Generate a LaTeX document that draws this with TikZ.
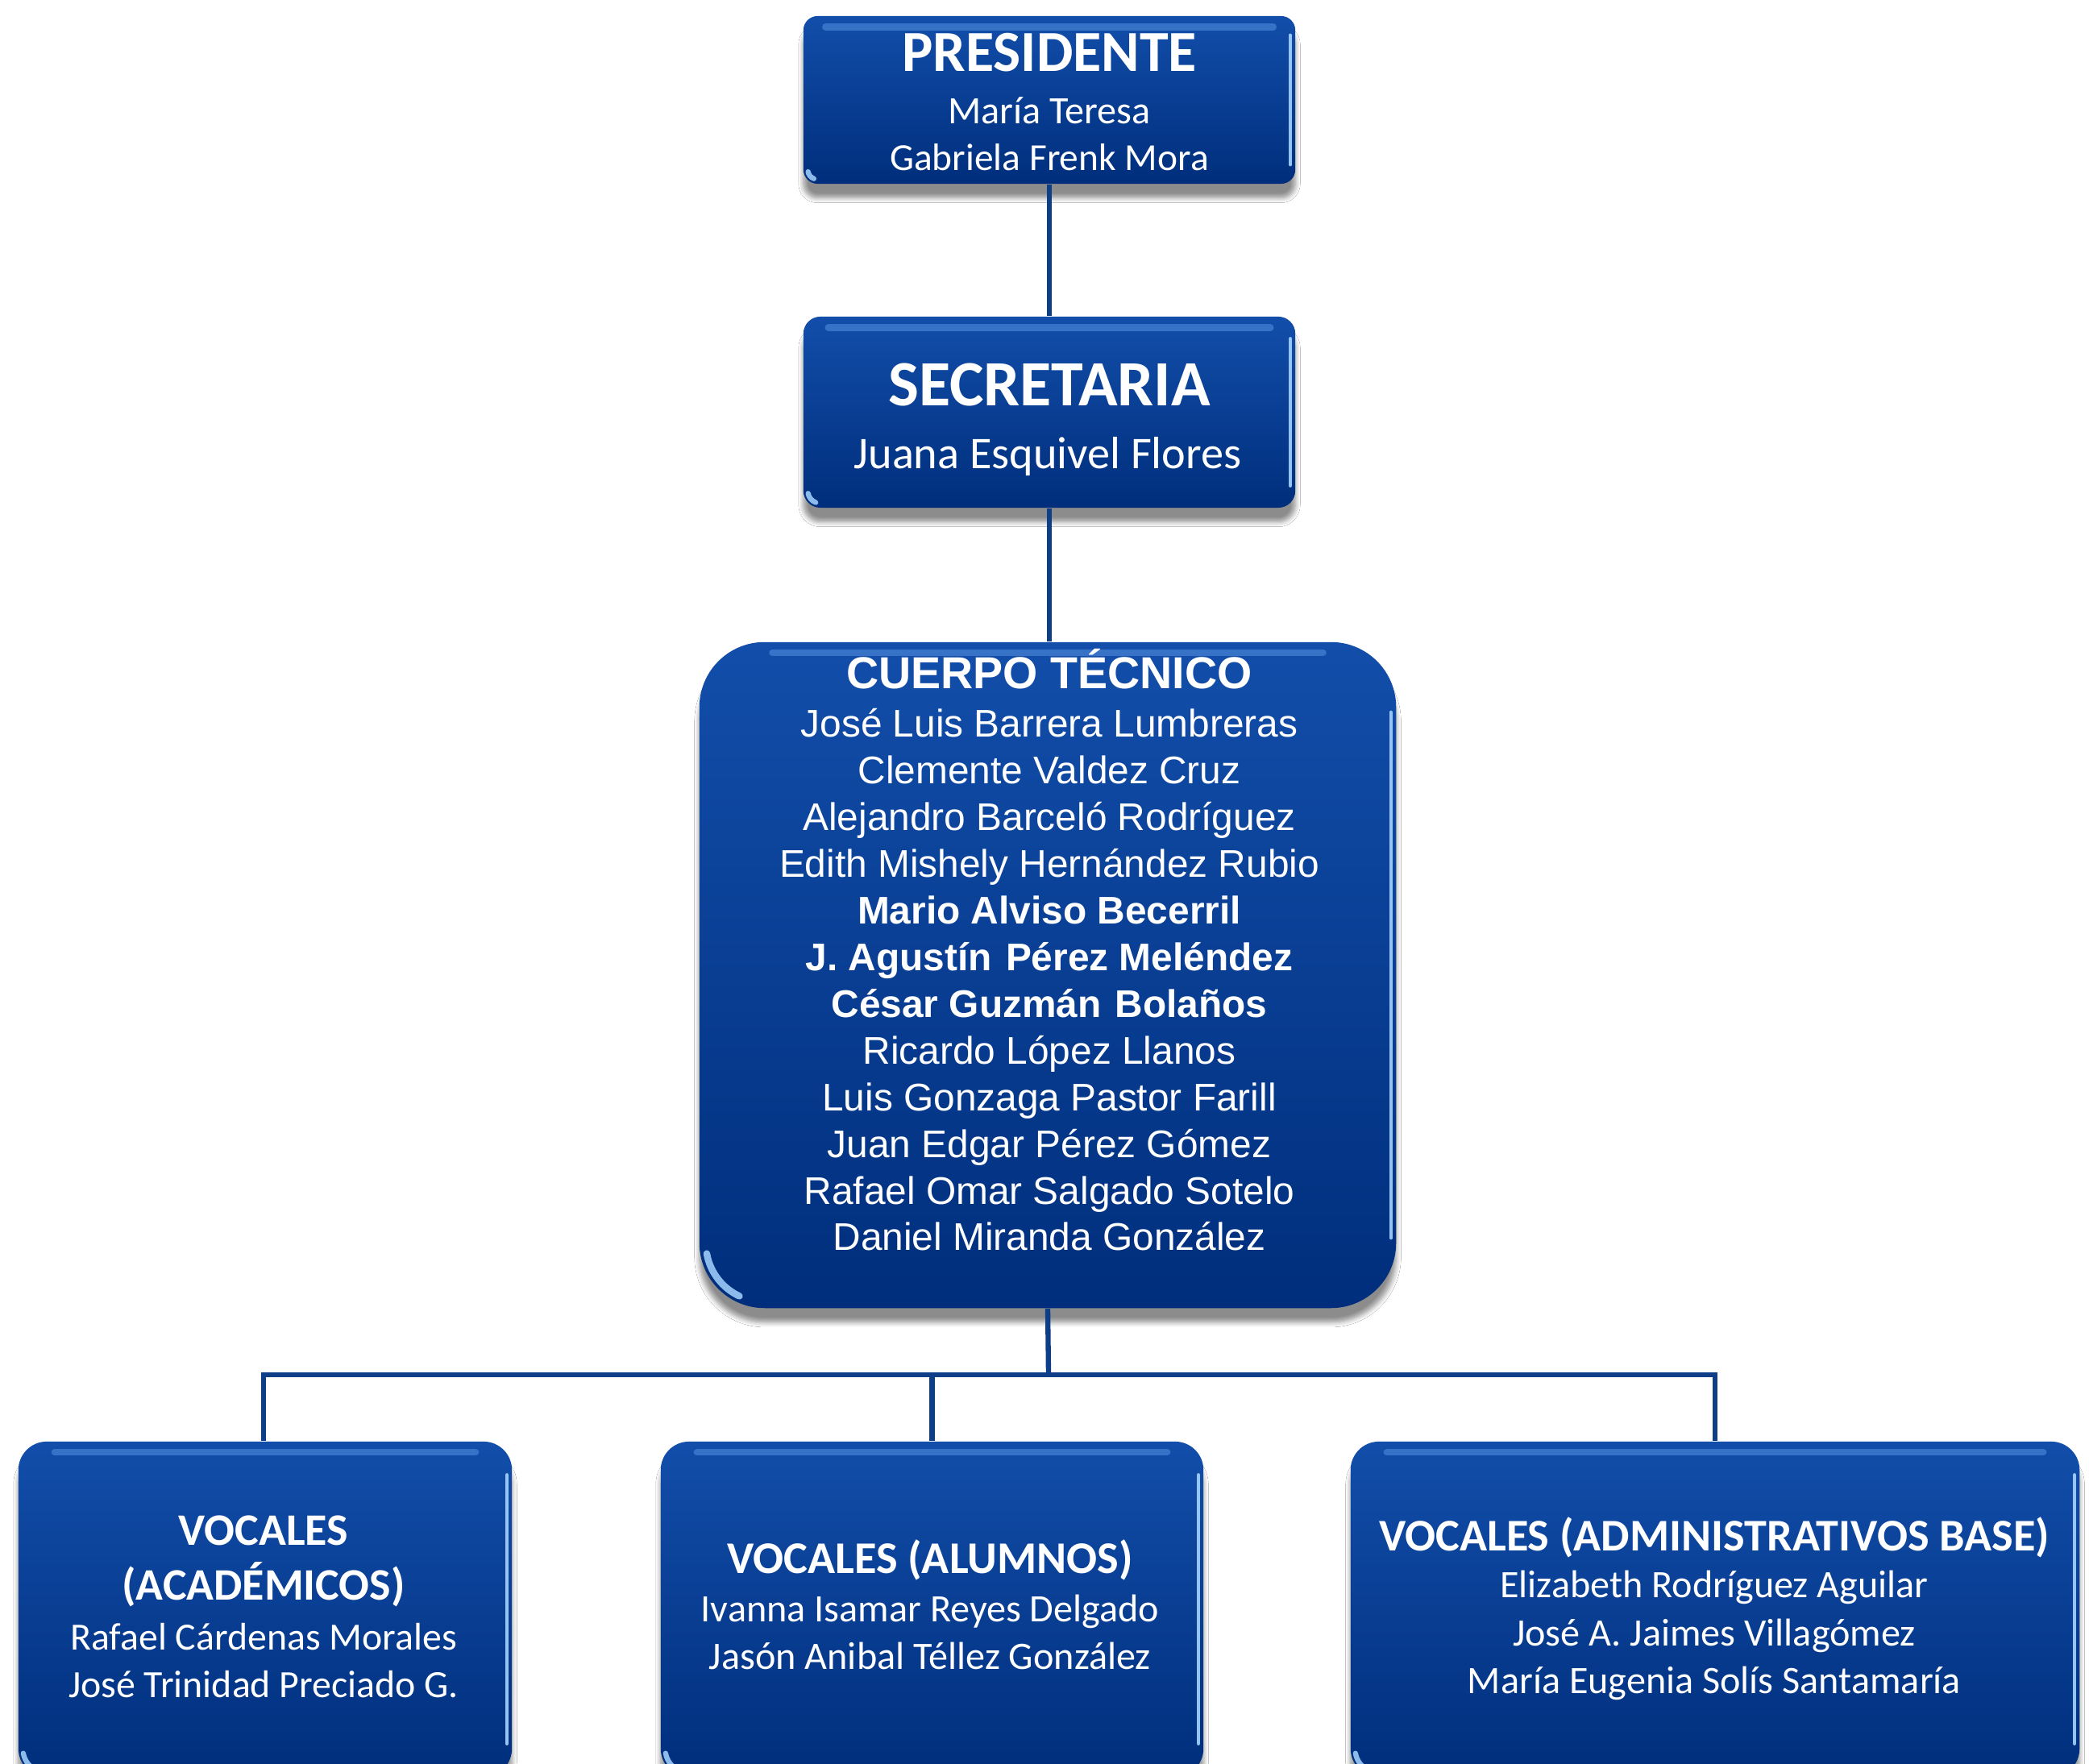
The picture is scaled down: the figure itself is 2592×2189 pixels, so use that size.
\documentclass[tikz,border=0pt]{standalone}
\usepackage{fontspec}
\newfontfamily\carl{Carlito}
\newfontfamily\arl{Liberation Sans}
\usetikzlibrary{shadows.blur}
\definecolor{boxtop}{RGB}{18,78,170}
\definecolor{boxmid}{RGB}{8,64,152}
\definecolor{boxbot}{RGB}{0,46,124}
\definecolor{connc}{RGB}{14,62,135}
\definecolor{hlc}{RGB}{80,140,220}
\definecolor{edgec}{RGB}{165,212,255}
\begin{document}
\begin{tikzpicture}[x=0.01cm,y=-0.01cm,
  orgbox/.style={rounded corners=#1, top color=boxtop, middle color=boxmid, bottom color=boxbot, draw=none,
    blur shadow={shadow blur steps=6, shadow xshift=0pt, shadow yshift=-5pt, shadow opacity=45}},
  orgbox/.default=5pt,
  hl/.style={draw=hlc, line width=2.4pt, opacity=0.6, line cap=round},
  edgehl/.style={draw=edgec, line width=1.3pt, opacity=0.9, line cap=round},
  cornerhl/.style={draw=edgec, line width=1.8pt, opacity=0.85, line cap=round},
  conn/.style={draw=connc, line width=1.8pt},
  ln/.style={anchor=base, text=white, inner sep=0pt},
  ttl/.style={ln, font=\carl\bfseries\fontsize{#1}{#1}\selectfont},
  nm/.style={ln, font=\carl\fontsize{#1}{#1}\selectfont},
  att/.style={ln, font=\arl\bfseries\fontsize{15.8}{16}\selectfont},
  atn/.style={ln, font=\arl\fontsize{13.6}{14}\selectfont},
  atb/.style={ln, font=\arl\bfseries\fontsize{13.6}{14}\selectfont}]
\fill[white] (0,0) rectangle (2592,2189);
\useasboundingbox (0,0) rectangle (2592,2189);

% boxes
\node[orgbox=5pt, minimum width=6.10cm, minimum height=2.08cm] (pres) at (1302,124) {};
\node[orgbox=6pt, minimum width=6.10cm, minimum height=2.37cm] (sec) at (1302,511.5) {};
\node[orgbox=23pt, minimum width=8.64cm, minimum height=8.26cm] (cuerpo) at (1300,1210) {};
\node[orgbox=10pt, minimum width=6.12cm, minimum height=4.16cm] (va) at (329,1997) {};
\node[orgbox=10pt, minimum width=6.73cm, minimum height=4.16cm] (vb) at (1156.5,1997) {};
\node[orgbox=10pt, minimum width=9.04cm, minimum height=4.16cm] (vc) at (2128,1997) {};

% glossy highlights
\foreach \b/\r in {pres/5, sec/6, va/10, vb/10, vc/10} {
  \draw[hl] ([xshift=\r pt+3pt, yshift=-4pt]\b.north west) -- ([xshift=-\r pt-3pt, yshift=-4pt]\b.north east);
  \draw[edgehl] ([xshift=-2pt, yshift=-\r pt-2pt]\b.north east) -- ([xshift=-2pt, yshift=\r pt+2pt]\b.south east);
  \draw[cornerhl] ([xshift=\r pt, yshift=\r pt]\b.south west) ++(190:\r pt-1.8pt) arc[start angle=190, end angle=250, radius=\r pt-1.8pt];
}
\draw[hl] ([xshift=26pt, yshift=-4pt]cuerpo.north west) -- ([xshift=-26pt, yshift=-4pt]cuerpo.north east);
\draw[edgehl] ([xshift=-2pt, yshift=-25pt]cuerpo.north east) -- ([xshift=-2pt, yshift=25pt]cuerpo.south east);
\draw[cornerhl, line width=2.4pt] ([xshift=23pt, yshift=23pt]cuerpo.south west) ++(190:20.5pt) arc[start angle=190, end angle=245, radius=20.5pt];

% connectors
\coordinate (bus) at (1301,1706);
\draw[conn] (pres.south) -- (sec.north);
\draw[conn] (sec.south) -- (sec.south |- cuerpo.north);
\draw[conn] (cuerpo.south) -- (bus);
\draw[conn] ([xshift=-0.5pt]va.north) |- (bus) -| (vc.north);
\draw[conn] (bus -| vb.north) -- (vb.north);

% texts
\node[ttl=20.5] (t1) at (1302,89) {PRESIDENTE};
\node[nm=13.7] (t2) at (1302,154) {María Teresa};
\node[nm=13.5] (t3) at (1302,212) {Gabriela Frenk Mora};

\node[ttl=22.8] (t4) at (1302,504) {SECRETARIA};
\node[nm=16] (t5) at (1300,582) {Juana Esquivel Flores};

\node[att] (t6) at (1302,855) {CUERPO TÉCNICO};
\foreach \txt/\st [count=\i from 0] in {
  José Luis Barrera Lumbreras/atn,
  Clemente Valdez Cruz/atn,
  Alejandro Barceló Rodríguez/atn,
  Edith Mishely Hernández Rubio/atn,
  Mario Alviso Becerril/atb,
  J. Agustín\hspace{0.08em} Pérez Meléndez/atb,
  César Guzmán\hspace{0.08em} Bolaños/atb,
  Ricardo López Llanos/atn,
  Luis Gonzaga Pastor Farill/atn,
  Juan Edgar Pérez Gómez/atn,
  Rafael Omar Salgado Sotelo/atn,
  Daniel Miranda González/atn} {
  \node[\st] (c\i) at (1302,915+57.9*\i) {\txt};
}

\node[ttl=15.9] (t7) at (327,1917) {VOCALES};
\node[ttl=15.9] (t8) at (327,1985) {(ACADÉMICOS)};
\node[nm=13.6] (t9) at (327,2047) {Rafael Cárdenas Morales};
\node[nm=13.6] (t10) at (327,2106) {José Trinidad Preciado G.};

\node[ttl=16] (t11) at (1154,1952) {VOCALES (ALUMNOS)};
\node[nm=13.7] (t12) at (1154,2012) {Ivanna Isamar Reyes Delgado};
\node[nm=13.7] (t13) at (1154,2071) {Jasón Anibal Téllez González};

\node[ttl=16] (t14) at (2127,1924) {VOCALES (ADMINISTRATIVOS BASE)};
\node[nm=13.7] (t15) at (2127,1982) {Elizabeth Rodríguez Aguilar};
\node[nm=13.7] (t16) at (2127,2042) {José A. Jaimes Villagómez};
\node[nm=13.7] (t17) at (2127,2101) {María Eugenia Solís Santamaría};
\end{tikzpicture}
\end{document}
